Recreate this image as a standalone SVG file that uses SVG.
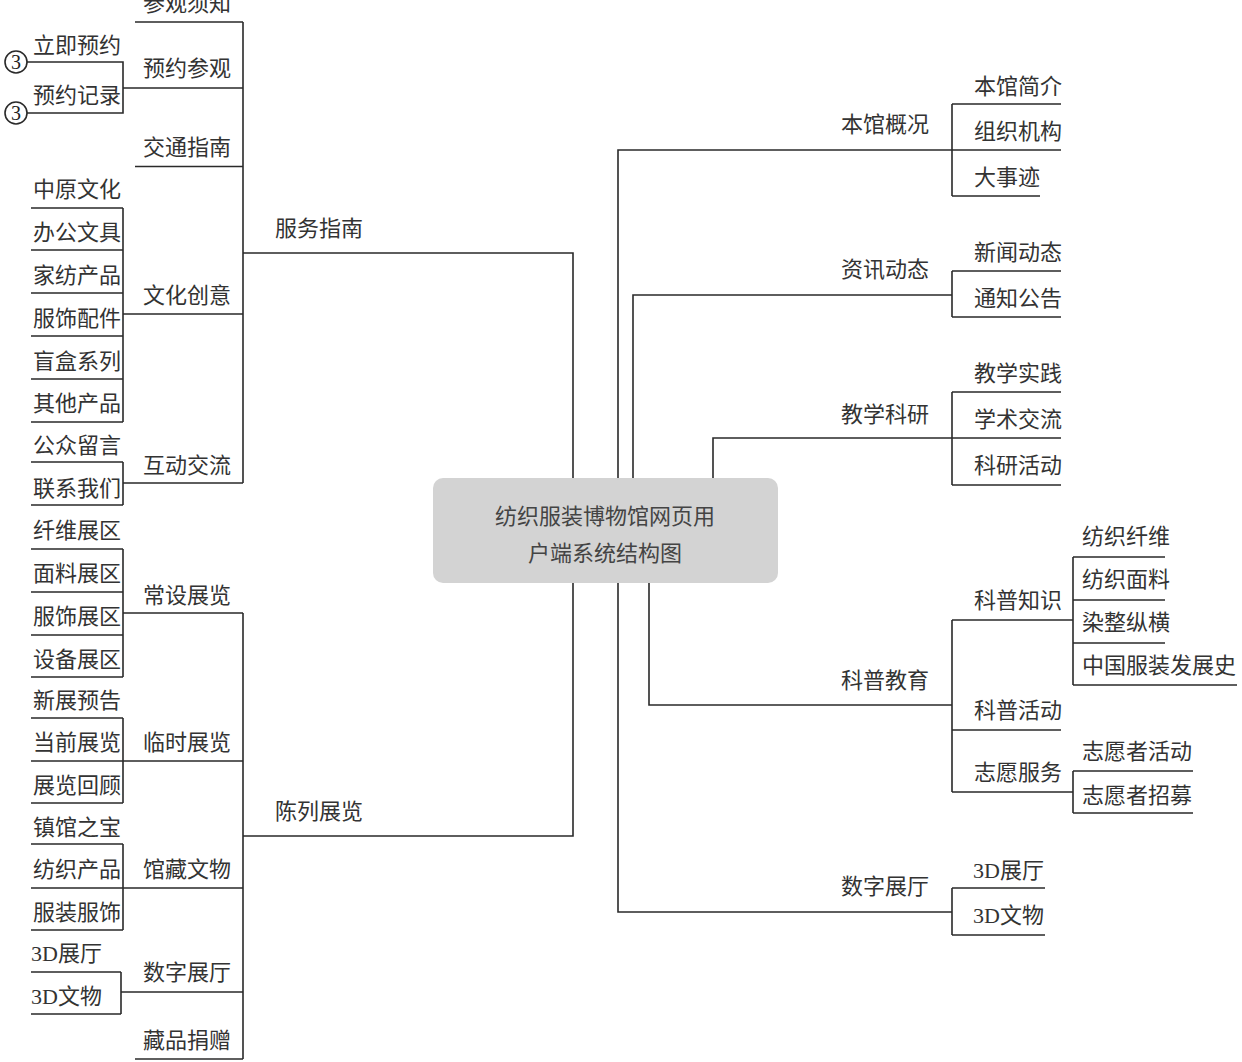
<svg xmlns="http://www.w3.org/2000/svg" width="1242" height="1062" viewBox="0 0 1242 1062">
<style>
text{font-family:"Liberation Serif","Noto Sans CJK SC",serif;font-size:22px;fill:#333}
.r{text-anchor:end}
.c{text-anchor:middle;fill:#444}
.ln{fill:none;stroke:#2a2a2a;stroke-width:1.6}
.circ{fill:#fff;stroke:#2a2a2a;stroke-width:1.6}
.num{font-size:20px;text-anchor:middle;fill:#222}
</style>
<rect width="1242" height="1062" fill="#fff"/>
<g id="connectors" class="ln">
<path d="M243 22V483M135 22H243M123 88H243M135 166.5H243M123 314H243M123 483H243M243 253H573V478"/>
<path d="M27 62H123V113H27"/>
<path d="M31 208H123M31 250H123M31 293H123M31 336H123M31 379H123M31 422H123M123 208V422"/>
<path d="M31 462H123M31 505H123M123 462V505"/>
<path d="M243 613V1059M573 583V836H243"/>
<path d="M31 549H123M31 592H123M31 635H123M31 677H123M123 549V677M123 613H243"/>
<path d="M31 718H123M31 761H243M31 803H123M123 718V803"/>
<path d="M31 844H123M31 888H243M31 930H123M123 844V930"/>
<path d="M31 972H121M31 1014H121M121 972V1014M121 992H243"/>
<path d="M135 1059H243"/>
<path d="M618 478V150H952M952 104V196M952 104H1061M952 150H1061M952 196H1040"/>
<path d="M633 478V295H952M952 271V317M952 271H1061M952 317H1061"/>
<path d="M713 478V438H952M952 392V485M952 392H1061M952 438H1061M952 485H1061"/>
<path d="M649 583V705H952M952 620V792"/>
<path d="M952 620H1073M1073 557V685M1073 557H1165M1073 600H1165M1073 643H1165M1073 685H1237"/>
<path d="M952 730H1061"/>
<path d="M952 792H1073M1073 771V813M1073 771H1193M1073 813H1193"/>
<path d="M618 583V912H952M952 888V935M952 888H1045M952 935H1045"/>
</g>
<g id="root"><rect x="433" y="478" width="345" height="105" rx="10" fill="#d3d3d3"/><text class="c" x="605" y="524">纺织服装博物馆网页用</text><text class="c" x="605" y="561">户端系统结构图</text></g>
<g id="fwzn"><text x="275" y="236">服务指南</text></g>
<g id="cgxz"><text x="143" y="11">参观须知</text></g>
<g id="yycg"><text x="143" y="76">预约参观</text></g>
<g id="ljyy"><circle class="circ" cx="16" cy="62" r="11"/><text class="num" x="16" y="69">3</text><text x="33" y="53">立即预约</text></g>
<g id="yyjl"><circle class="circ" cx="16" cy="113" r="11"/><text class="num" x="16" y="120">3</text><text x="33" y="103">预约记录</text></g>
<g id="jtzn"><text x="143" y="155">交通指南</text></g>
<g id="whcy"><text x="143" y="303">文化创意</text></g>
<g id="wc1"><text x="33" y="197">中原文化</text></g>
<g id="wc2"><text x="33" y="240">办公文具</text></g>
<g id="wc3"><text x="33" y="283">家纺产品</text></g>
<g id="wc4"><text x="33" y="326">服饰配件</text></g>
<g id="wc5"><text x="33" y="369">盲盒系列</text></g>
<g id="wc6"><text x="33" y="411">其他产品</text></g>
<g id="hdjl"><text x="143" y="473">互动交流</text></g>
<g id="hd1"><text x="33" y="453">公众留言</text></g>
<g id="hd2"><text x="33" y="496">联系我们</text></g>
<g id="clzl"><text x="275" y="819">陈列展览</text></g>
<g id="cszl"><text x="143" y="603">常设展览</text></g>
<g id="cs1"><text x="33" y="538">纤维展区</text></g>
<g id="cs2"><text x="33" y="581">面料展区</text></g>
<g id="cs3"><text x="33" y="624">服饰展区</text></g>
<g id="cs4"><text x="33" y="667">设备展区</text></g>
<g id="lszl"><text x="143" y="750">临时展览</text></g>
<g id="ls1"><text x="33" y="708">新展预告</text></g>
<g id="ls2"><text x="33" y="750">当前展览</text></g>
<g id="ls3"><text x="33" y="793">展览回顾</text></g>
<g id="gcww"><text x="143" y="877">馆藏文物</text></g>
<g id="gc1"><text x="33" y="835">镇馆之宝</text></g>
<g id="gc2"><text x="33" y="877">纺织产品</text></g>
<g id="gc3"><text x="33" y="920">服装服饰</text></g>
<g id="szzt1"><text x="143" y="980">数字展厅</text></g>
<g id="sz1"><text x="31" y="961">3D展厅</text></g>
<g id="sz2"><text x="31" y="1004">3D文物</text></g>
<g id="cpjz"><text x="143" y="1048">藏品捐赠</text></g>
<g id="bggk"><text class="r" x="929" y="132">本馆概况</text></g>
<g id="bg1"><text x="974" y="94">本馆简介</text></g>
<g id="bg2"><text x="974" y="139">组织机构</text></g>
<g id="bg3"><text x="974" y="185">大事迹</text></g>
<g id="zxdt"><text class="r" x="929" y="277">资讯动态</text></g>
<g id="zx1"><text x="974" y="260">新闻动态</text></g>
<g id="zx2"><text x="974" y="306">通知公告</text></g>
<g id="jxky"><text class="r" x="929" y="422">教学科研</text></g>
<g id="jx1"><text x="974" y="381">教学实践</text></g>
<g id="jx2"><text x="974" y="427">学术交流</text></g>
<g id="jx3"><text x="974" y="473">科研活动</text></g>
<g id="kpjy"><text class="r" x="929" y="688">科普教育</text></g>
<g id="kpzs"><text x="974" y="608">科普知识</text></g>
<g id="kz1"><text x="1082" y="544">纺织纤维</text></g>
<g id="kz2"><text x="1082" y="587">纺织面料</text></g>
<g id="kz3"><text x="1082" y="630">染整纵横</text></g>
<g id="kz4"><text x="1082" y="673">中国服装发展史</text></g>
<g id="kphd"><text x="974" y="718">科普活动</text></g>
<g id="zyfw"><text x="974" y="780">志愿服务</text></g>
<g id="zy1"><text x="1082" y="759">志愿者活动</text></g>
<g id="zy2"><text x="1082" y="803">志愿者招募</text></g>
<g id="szzt2"><text class="r" x="929" y="894">数字展厅</text></g>
<g id="sr1"><text x="973" y="878">3D展厅</text></g>
<g id="sr2"><text x="973" y="923">3D文物</text></g>
</svg>
